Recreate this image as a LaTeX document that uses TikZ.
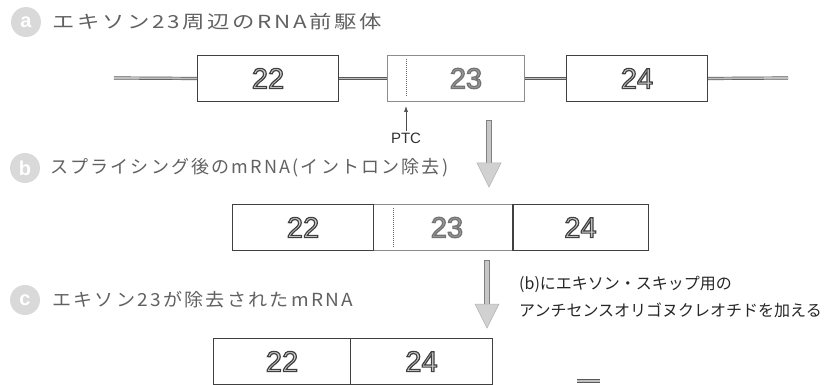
\documentclass[tikz,border=0pt]{standalone}
\usepackage{fontspec}
\usepackage{graphicx}
\usetikzlibrary{arrows.meta}
\setmainfont{Liberation Sans}
\newfontfamily\jp{Noto Sans CJK JP}
\newfontfamily\jpl[LetterSpace=12]{Noto Sans CJK JP}
\newcommand{\outnum}[3]{{\special{pdf:literal direct #1 G #2 g 2 Tr 1.2 w}#3\special{pdf:literal direct 0 Tr}}}
\begin{document}
\begin{tikzpicture}[x=1pt,y=-1pt,
  exon/.style={draw=black!75, line width=1pt, minimum height=46pt, inner sep=0pt, anchor=north west},
  pale/.style={draw=black!45},
  num/.style={font=\fontsize{29}{30}\selectfont},
  intron/.style={draw=black!65, line width=0.7pt, double=black!25, double distance=1.8pt},
  lbl/.style={anchor=west, text=black!62, font=\jpl\fontsize{18}{20}\selectfont, inner sep=0pt},
  badge/.style={circle, fill=black!15, minimum size=30pt, inner sep=0pt, text=white, font=\bfseries\fontsize{20}{20}\selectfont},
  bigarrow/.style={fill=black!22, draw=black!50, line width=0.6pt},
  bighead/.style={fill=black!18, draw=black!30, line width=0.5pt}]
\useasboundingbox (0,0) rectangle (836,385);

% ---- row a ----
\node[badge] (la) at (26,22) {a};
\node[lbl] (ta) at (52,22) {\resizebox{330pt}{\height}{エキソン23周辺のRNA前駆体}};

\node[exon, minimum width=141pt] (a22) at (197,55) {};
\node[exon, pale, minimum width=137pt] (a23) at (387,55) {};
\node[exon, minimum width=141pt] (a24) at (566,55) {};
\node[num] at (a22.center) {\outnum{0.25}{0.82}{22}};
\node[num] at ([xshift=10pt]a23.center) {\outnum{0.45}{0.6}{23}};
\node[num] at (a24.center) {\outnum{0.25}{0.82}{24}};
\coordinate (ls) at (114,78);
\coordinate (le) at (788,78);
\draw[intron] (ls) -- (a22.west);
\draw[intron] (a22.east) -- (a23.west);
\draw[intron] (a23.east) -- (a24.west);
\draw[intron] (a24.east) -- (le);
\coordinate (da1) at (406,59);
\coordinate (da2) at (406,97);
\draw[black!60, densely dotted, line width=1pt] (da1) -- (da2);

\node[font=\fontsize{15}{16}\selectfont, text=black!80, inner sep=1pt] (ptc) at (406,138) {PTC};
\coordinate (ptct) at (406,106);
\draw[black!70, line width=0.6pt, -{Latex[length=6pt,width=4pt]}] (ptc.north) -- (ptct);

% arrow a -> b
\draw[bigarrow] (486.5,120) rectangle (491.5,164);
\draw[bighead] (477,163) -- (501,163) -- (489,187) -- cycle;

% ---- row b ----
\node[badge] (lb) at (25,168) {b};
\node[lbl] (tb) at (50,168) {\resizebox{398pt}{\height}{スプライシング後のmRNA(イントロン除去)}};

\node[exon, minimum width=141pt] (b22) at (232,204) {};
\node[exon, pale, minimum width=139pt] (b23) at (373,204) {};
\node[exon, minimum width=136pt] (b24) at (512,204) {};
\draw[black!75, line width=1pt] (b23.north east) -- (b23.south east);
\draw[black!75, line width=1pt] (b23.north west) -- (b23.south west);
\node[num] at (b22.center) {\outnum{0.25}{0.82}{22}};
\node[num] at ([xshift=4pt]b23.center) {\outnum{0.45}{0.6}{23}};
\node[num] at (b24.center) {\outnum{0.25}{0.82}{24}};
\coordinate (db1) at (393,208);
\coordinate (db2) at (393,248);
\draw[black!60, densely dotted, line width=1pt] (db1) -- (db2);

% arrow b -> c
\draw[bigarrow] (484.5,260) rectangle (489.5,305);
\draw[bighead] (475,304) -- (499,304) -- (487,328) -- cycle;

\node[anchor=west, align=left, text=black!85, inner sep=0pt,
      font=\jp\fontsize{16}{27}\selectfont] (note) at (519,296.5)
      {(b)にエキソン・スキップ用の\\アンチセンスオリゴヌクレオチドを加える};

% ---- row c ----
\node[badge] (lc) at (25,300) {c};
\node[lbl] (tc) at (52,300) {\resizebox{301pt}{\height}{エキソン23が除去されたmRNA}};

\node[exon, minimum width=137pt] (c22) at (213,338) {};
\node[exon, minimum width=142pt] (c24) at (350,338) {};
\node[num] at (c22.center) {\outnum{0.25}{0.82}{22}};
\node[num] at (c24.center) {\outnum{0.25}{0.82}{24}};

% cut-off mark at bottom
\coordinate (m1) at (577,381);
\coordinate (m2) at (600,381);
\draw[intron] (m1) -- (m2);
\end{tikzpicture}
\end{document}
